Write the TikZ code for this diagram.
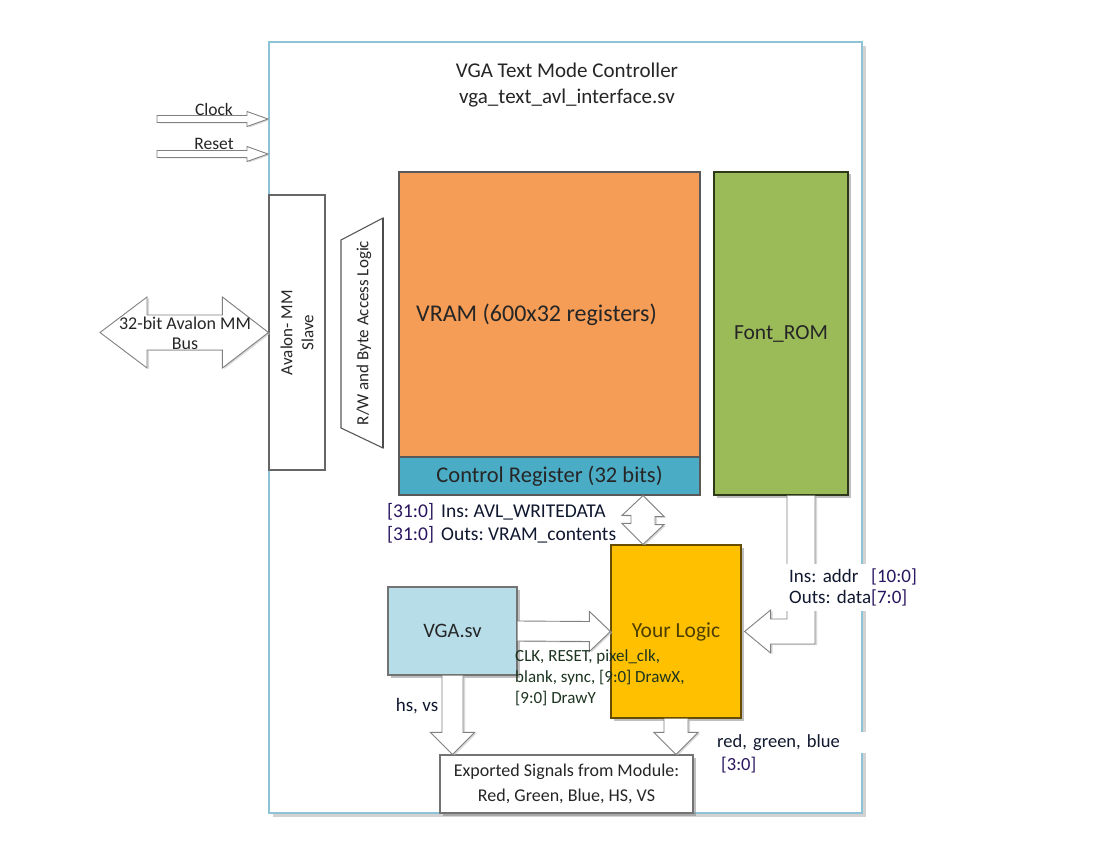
\documentclass[tikz,border=0pt]{standalone}
\usepackage{fontspec}
\setmainfont{Carlito}
\usetikzlibrary{calc,shadows}
\definecolor{outerblue}{HTML}{8CC3D6}
\definecolor{vramc}{HTML}{F59D56}
\definecolor{ctrlc}{HTML}{4BACC6}
\definecolor{romc}{HTML}{9BBB59}
\definecolor{logicc}{HTML}{FFC000}
\definecolor{vgac}{HTML}{B7DDE8}
\definecolor{boxline}{HTML}{595959}
\definecolor{arrowline}{HTML}{808080}
\definecolor{brk}{HTML}{2A1660}
\definecolor{lbl}{HTML}{101830}
\definecolor{sig}{HTML}{1C3420}
\definecolor{logictext}{HTML}{4D3F00}
\definecolor{txtdark}{HTML}{262626}
\begin{document}
\frenchspacing
\begin{tikzpicture}[x=1pt,y=-1pt,
  box/.style={draw=boxline, line width=1.2pt, inner sep=0pt, align=center, text=txtdark},
  sh/.style={drop shadow={shadow xshift=2.5pt,shadow yshift=-2.5pt,fill=black!50}},
  barrow/.style={draw=arrowline, fill=white, line width=0.9pt, line join=miter,
    drop shadow={shadow xshift=2pt,shadow yshift=-1pt,fill=black!25,opacity=0.6}}]
\useasboundingbox (0,0) rectangle (1106,842);

% outer frame
\node[draw=outerblue, line width=2pt, fill=white, minimum width=593pt, minimum height=771pt,
  drop shadow={shadow xshift=4pt,shadow yshift=-4pt,fill=black!35}] (outer) at (565.5,427.5) {};
\node[align=center, text=txtdark, font=\fontsize{21}{26}\selectfont] (title) at (567,85)
  {VGA Text Mode Controller\\vga\_text\_avl\_interface.sv};

% main blocks
\node[box, fill=vramc, minimum width=301pt, minimum height=285pt, text=black!85, font=\fontsize{24}{28}\selectfont] (vram) at (549.5,314.5) {VRAM (600x32 registers)\hspace*{26pt}};
\node[box, fill=ctrlc, minimum width=301pt, minimum height=38pt, text=black!85, font=\fontsize{22.5}{26}\selectfont] (ctrl) at (549.5,476) {Control Register (32 bits)};
\node[box, sh, draw=black!70!romc, fill=romc, minimum width=134pt, minimum height=323pt, text=black!85, font=\fontsize{21.5}{24}\selectfont] (rom) at (781,333.5) {Font\_ROM};
\node[box, sh, draw=black!60!logicc, fill=logicc, minimum width=130pt, minimum height=173pt, text=logictext, font=\fontsize{21.5}{24}\selectfont] (logic) at (676,631.5) {Your Logic};
\node[box, sh, draw=black!55, fill=vgac, minimum width=129pt, minimum height=88pt, font=\fontsize{20.5}{24}\selectfont] (vga) at (452.5,631) {VGA.sv};
\node[box, sh, draw=black!55, fill=white, minimum width=253pt, minimum height=58pt, font=\fontsize{18}{25}\selectfont] (exported) at (566.5,784)
  {Exported Signals from Module:\\Red, Green, Blue, HS, VS};
\node[box, draw=black!60, fill=white, rotate=90, minimum width=275pt, minimum height=56pt, font=\fontsize{17}{21}\selectfont] (slave) at (297,332.5)
  {Avalon- MM\\Slave};

% R/W trapezoid
\draw[draw=black!65, line width=1.1pt, fill=white] (341,240) -- (383,218) -- (383,448) -- (341,428) -- cycle;
\draw[draw=black!70, line width=1.8pt] (383,218) -- (383,448);
\node[rotate=90, text=txtdark, font=\fontsize{17}{20}\selectfont] (rw) at (364,333) {R/W and Byte Access Logic};

% Clock and Reset arrows
\coordinate (clkS) at (157,119);
\coordinate (rstS) at (157,154);
\draw[barrow] ($(clkS)+(0,-3.5)$) -- ($(outer.west |- clkS)+(-21,-3.5)$) -- ++(0,-4) -- (outer.west |- clkS)
  -- ++(-21,7.5) -- ++(0,-4) -- ($(clkS)+(0,3.5)$) -- cycle;
\draw[barrow] ($(rstS)+(0,-3.5)$) -- ($(outer.west |- rstS)+(-21,-3.5)$) -- ++(0,-4) -- (outer.west |- rstS)
  -- ++(-21,7.5) -- ++(0,-4) -- ($(rstS)+(0,3.5)$) -- cycle;
\node[text=txtdark, font=\fontsize{17.5}{19}\selectfont] (clklbl) at (214,109) {Clock};
\node[text=txtdark, font=\fontsize{17.5}{19}\selectfont] (rstlbl) at (214,144) {Reset};

% Avalon bus double arrow
\coordinate (busL) at (100,332.5);
\draw[barrow] (busL) -- ++(47,-35.5) -- ++(0,18) -- ($(slave.north)+(-46,-17.5)$) -- ++(0,-18) -- (slave.north)
  -- ++(-46,35.5) -- ++(0,-18) -- ($(busL)+(47,17.5)$) -- ++(0,18) -- cycle;
\node[align=center, text=txtdark, font=\fontsize{18}{20}\selectfont] (bustext) at (185,333) {32-bit Avalon MM\\Bus};

% Control register <-> Your Logic
\coordinate (dtop) at ($(ctrl.south)+(93.5,0)$);
\coordinate (dbot) at (dtop |- logic.north);
\draw[barrow] (dtop) -- ++(21,21) -- ++(-9,0) -- ++(0,8) -- ++(9,0) -- (dbot)
  -- ++(-21,-21) -- ++(9,0) -- ++(0,-8) -- ++(-9,0) -- cycle;
\node[anchor=west, align=left, inner sep=0pt, text=lbl, font=\fontsize{19.5}{23}\selectfont] (inslbl) at (387,523)
  {\makebox[54pt][l]{\textcolor{brk}{[31:0]}}Ins: AVL\_WRITEDATA\\
   \makebox[54pt][l]{\textcolor{brk}{[31:0]}}Outs: VRAM\_contents};

% VGA.sv -> Your Logic
\draw[barrow] ($(vga.east)+(0,-10)$) -- ($(logic.west)+(-21,-10)$) -- ++(0,-10) -- (logic.west)
  -- ++(-21,20) -- ++(0,-10) -- ($(vga.east)+(0,10)$);
\node[anchor=west, align=left, inner sep=0pt, text=sig, font=\fontsize{17}{21}\selectfont] (siglbl) at (515,678)
  {CLK, RESET, pixel\_clk,\\blank, sync, [9:0] DrawX,\\{[9:0]} DrawY};

% hs, vs arrow
\coordinate (t1) at (vga.south |- exported.north);
\draw[barrow] ($(vga.south)+(-10.5,0)$) -- ($(t1)+(-10.5,-22)$) -- ++(-11.5,0) -- (t1)
  -- ++(22,-22) -- ++(-11.5,0) -- ($(vga.south)+(10.5,0)$);
\node[text=lbl, font=\fontsize{19}{22}\selectfont] (hslbl) at (417,706) {hs, vs};

% Your Logic -> exported
\coordinate (t2) at (logic.south |- exported.north);
\draw[barrow] ($(logic.south)+(-12,0)$) -- ($(t2)+(-12,-22)$) -- ++(-10,0) -- (t2)
  -- ++(22,-22) -- ++(-10,0) -- ($(logic.south)+(12,0)$);
\node[fill=white, anchor=north west, inner xsep=3pt, inner ysep=0pt, text width=152pt, minimum height=21pt, align=left,
  text=lbl, font=\fontsize{18.5}{20}\selectfont] (rgb1) at (714,732) {red, green, blue};
\node[anchor=west, inner sep=0pt, text=brk, font=\fontsize{18.5}{20}\selectfont] (rgb2) at (721,765) {[3:0]};

% Font_ROM -> Your Logic
\coordinate (fa) at ($(rom.south)+(6,0)$);
\coordinate (fb) at ($(rom.south)+(34,0)$);
\coordinate (ftip) at ($(logic.east)+(3,0)$);
\draw[barrow] (fa) -- ($(fa |- ftip)+(0,-12.5)$) -- ($(ftip)+(26,-12.5)$) -- ++(0,-9) -- (ftip)
  -- ++(26,21.5) -- ++(0,-9) -- ($(fb |- ftip)+(0,12.5)$) -- (fb);
\node[fill=white, anchor=north west, inner xsep=3pt, inner ysep=0pt, text width=124pt, minimum height=47pt, align=left,
  text=lbl, font=\fontsize{19}{21}\selectfont] (romlbl) at (786,564)
  {\makebox[82pt][l]{Ins: addr}\textcolor{brk}{[10:0]}\\
   \makebox[82pt][l]{Outs: data}\textcolor{brk}{[7:0]}};
\end{tikzpicture}
\end{document}
